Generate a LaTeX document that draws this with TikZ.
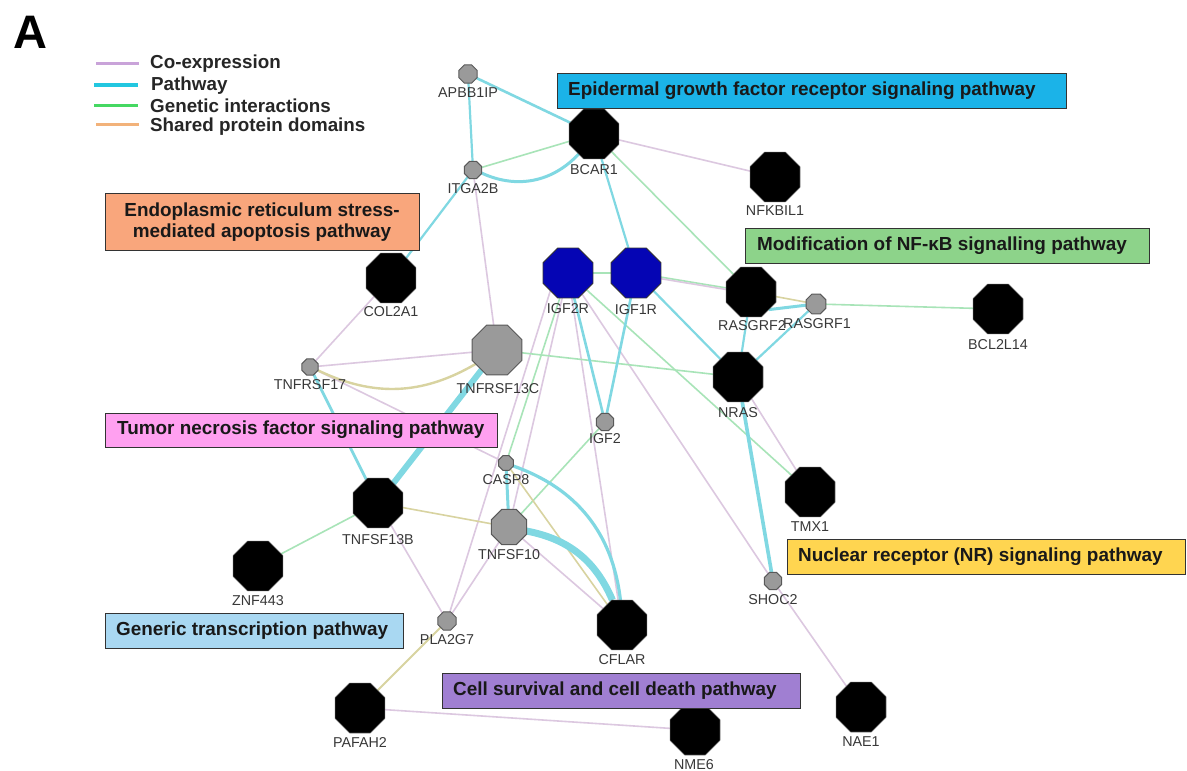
\documentclass[tikz,border=0pt]{standalone}
\usepackage{fontspec}
\setmainfont{Liberation Sans}
\usetikzlibrary{shapes.geometric}
\pgfdeclarelayer{back}
\pgfdeclarelayer{bg}
\pgfsetlayers{back,bg,main}
\definecolor{coex}{HTML}{DCC8E0}
\definecolor{pathw}{HTML}{80D8E2}
\definecolor{genet}{HTML}{A8E4B8}
\definecolor{shared}{HTML}{D8D3A0}
\definecolor{lcoex}{HTML}{C9A3D9}
\definecolor{lpath}{HTML}{22C7E0}
\definecolor{lgen}{HTML}{45D862}
\definecolor{lshared}{HTML}{F2B27A}
\definecolor{cEGF}{HTML}{1BB3E8}
\definecolor{cER}{HTML}{F9A67C}
\definecolor{cNFK}{HTML}{8DD38A}
\definecolor{cTNF}{HTML}{FFA0F0}
\definecolor{cNR}{HTML}{FFD550}
\definecolor{cGEN}{HTML}{A9D8F2}
\definecolor{cCELL}{HTML}{A07FD2}
\definecolor{labgray}{HTML}{383838}
\definecolor{nodeblue}{HTML}{0505B4}
\definecolor{nodegray}{HTML}{9A9A9A}
\tikzset{
  oct/.style={regular polygon, regular polygon sides=8, inner sep=0pt, outer sep=0pt},
  bignode/.style={oct, minimum size=54pt, fill=black, draw=black!70, line width=0.6pt},
  bluenode/.style={oct, minimum size=54pt, fill=nodeblue, draw=black!80, line width=0.8pt},
  graynode/.style={oct, fill=nodegray, draw=black!65, line width=1pt},
  lab/.style={font=\fontsize{14.3}{14.3}\selectfont, text=labgray, inner sep=0pt},
  pbox/.style={draw=black!80, line width=1.4pt, inner sep=0pt, anchor=north west},
  ptext/.style={font=\fontsize{18.9}{20.5}\selectfont\bfseries, text=black!90, inner sep=0pt},
  legtext/.style={font=\fontsize{18.8}{20.5}\selectfont\bfseries, text=black!85, inner sep=0pt, anchor=west},
  ce/.style={coex, line width=1.6pt},
  pw/.style={pathw, line width=2.2pt},
  gi/.style={genet, line width=1.6pt},
  sd/.style={shared, line width=1.6pt},
}
\begin{document}
\begin{tikzpicture}[x=1pt, y=-1pt]
\useasboundingbox (0,0) rectangle (1187,771);
\begin{pgfonlayer}{back}
\fill[white] (0,0) rectangle (1187,771);
\end{pgfonlayer}

% panel letter
\node[font=\fontsize{47}{47}\selectfont\bfseries, inner sep=0pt] (letterA) at (30,32) {A};

% legend
\draw[lcoex, line width=3pt] (96,63) -- (139,63);
\draw[lpath, line width=3.5pt] (94,85) -- (138,85);
\draw[lgen, line width=3pt] (94,105) -- (138,105);
\draw[lshared, line width=3pt] (96,124) -- (139,124);
\node[legtext] (lg1) at (150,64) {Co-expression};
\node[legtext] (lg2) at (151,86) {Pathway};
\node[legtext] (lg3) at (150,106) {Genetic interactions};
\node[legtext] (lg4) at (150,127) {Shared protein domains};

% gene nodes
\node[graynode, minimum size=19.5pt] (APBB1IP) at (468,74) {};
\node[graynode, minimum size=18.5pt] (ITGA2B) at (473,170) {};
\node[bignode] (BCAR1) at (594,134) {};
\node[bignode] (NFKBIL1) at (775,177) {};
\node[bignode] (COL2A1) at (391,278) {};
\node[bluenode] (IGF2R) at (568,273) {};
\node[bluenode] (IGF1R) at (636,273) {};
\node[bignode] (RASGRF2) at (751,292) {};
\node[graynode, minimum size=21.5pt] (RASGRF1) at (816,304) {};
\node[bignode] (BCL2L14) at (998,309) {};
\node[graynode, minimum size=17.5pt] (TNFRSF17) at (310,367) {};
\node[graynode, minimum size=54pt] (TNFRSF13C) at (497,350) {};
\node[bignode] (NRAS) at (738,377) {};
\node[graynode, minimum size=18.5pt] (IGF2) at (605,422) {};
\node[graynode, minimum size=16pt] (CASP8) at (506,463) {};
\node[bignode] (TNFSF13B) at (378,503) {};
\node[graynode, minimum size=38pt] (TNFSF10) at (509,527) {};
\node[bignode] (ZNF443) at (258,566) {};
\node[graynode, minimum size=19.5pt] (PLA2G7) at (447,621) {};
\node[bignode] (CFLAR) at (622,625) {};
\node[bignode] (PAFAH2) at (360,708) {};
\node[bignode] (NME6) at (695,730) {};
\node[bignode] (NAE1) at (861,707) {};
\node[bignode] (TMX1) at (810,492) {};
\node[graynode, minimum size=18.5pt] (SHOC2) at (773,581) {};

% labels
\node[lab] (tAPBB1IP) at (468,93) {APBB1IP};
\node[lab] (tITGA2B) at (473,189) {ITGA2B};
\node[lab] (tBCAR1) at (594,170) {BCAR1};
\node[lab] (tNFKBIL1) at (775,211) {NFKBIL1};
\node[lab] (tCOL2A1) at (391,312) {COL2A1};
\node[lab] (tIGF2R) at (568,309) {IGF2R};
\node[lab] (tIGF1R) at (636,310) {IGF1R};
\node[lab] (tRASGRF2) at (752,326) {RASGRF2};
\node[lab] (tRASGRF1) at (817,324) {RASGRF1};
\node[lab] (tBCL2L14) at (998,345) {BCL2L14};
\node[lab] (tTNFRSF17) at (310,385) {TNFRSF17};
\node[lab] (tTNFRSF13C) at (498,389) {TNFRSF13C};
\node[lab] (tNRAS) at (738,413) {NRAS};
\node[lab] (tIGF2) at (605,439) {IGF2};
\node[lab] (tCASP8) at (506,480) {CASP8};
\node[lab] (tTNFSF13B) at (378,540) {TNFSF13B};
\node[lab] (tTNFSF10) at (509,555) {TNFSF10};
\node[lab] (tZNF443) at (258,601) {ZNF443};
\node[lab] (tPLA2G7) at (447,640) {PLA2G7};
\node[lab] (tCFLAR) at (622,660) {CFLAR};
\node[lab] (tPAFAH2) at (360,743) {PAFAH2};
\node[lab] (tNME6) at (694,765) {NME6};
\node[lab] (tNAE1) at (861,742) {NAE1};
\node[lab] (tTMX1) at (810,527) {TMX1};
\node[lab] (tSHOC2) at (773,600) {SHOC2};

% edges
\begin{pgfonlayer}{bg}
% co-expression
\draw[ce] (ITGA2B) -- (TNFRSF13C);
\draw[ce] (BCAR1) -- (NFKBIL1);
\draw[ce] (IGF2R) -- (CFLAR);
\draw[ce] (IGF2R) -- (SHOC2);
\draw[ce] (IGF2R) -- (TNFSF10);
\draw[ce] (IGF2R.south west) -- (PLA2G7);
\draw[ce] (TNFRSF17) -- (TNFRSF13C);
\draw[ce] (TNFRSF17) -- (COL2A1);
\draw[ce] (TNFRSF17) -- (CASP8);
\draw[ce] (TNFSF13B) -- (PLA2G7);
\draw[ce] (PLA2G7) -- (TNFSF10);
\draw[ce] (TNFSF10) -- (CFLAR);
\draw[ce] (NRAS) -- (TMX1);
\draw[ce] (SHOC2) -- (NAE1);
\draw[ce] (PAFAH2) -- (NME6);
% genetic interactions
\draw[gi] (ITGA2B) -- (BCAR1);
\draw[gi] (BCAR1) -- (RASGRF2);
\draw[gi] (IGF2R) -- (IGF1R);
\draw[gi] (IGF1R) -- (RASGRF2);
\draw[ce, transform canvas={yshift=-1.6pt}] (IGF1R) -- (RASGRF2);
\draw[gi] (IGF2R) -- (TMX1);
\draw[gi] (IGF2R) -- (CASP8);
\draw[gi] (IGF2) -- (TNFSF10);
\draw[gi] (TNFRSF13C) -- (NRAS);
\draw[gi] (RASGRF1) -- (BCL2L14);
\draw[gi] (TNFSF13B) -- (ZNF443);
% shared protein domains
\draw[sd, line width=2.4pt] (TNFRSF17) to[bend right=28] (TNFRSF13C);
\draw[sd] (RASGRF2) -- (RASGRF1);
\draw[sd] (TNFSF13B) -- (TNFSF10);
\draw[sd] (CASP8) -- (CFLAR);
\draw[sd, line width=2pt] (PLA2G7) -- (PAFAH2);
% pathway
\draw[pw, line width=2.6pt] (APBB1IP) -- (BCAR1);
\draw[pw] (APBB1IP) -- (ITGA2B);
\draw[pw, line width=3pt] (ITGA2B) to[bend right=36] (BCAR1);
\draw[pw] (ITGA2B) -- (COL2A1);
\draw[pw] (BCAR1) -- (IGF1R);
\draw[pw] (IGF1R) -- (NRAS);
\draw[pw, line width=2.6pt] (IGF1R) -- (IGF2);
\draw[pw, line width=2.6pt] (IGF2R) -- (IGF2);
\draw[pw] (RASGRF2) -- (NRAS);
\draw[pw] (RASGRF1) -- (NRAS);
\draw[pw, line width=3pt] (RASGRF1) -- (RASGRF2.south east);
\draw[pw, line width=3.6pt] (NRAS) -- (SHOC2);
\draw[pw, line width=2.8pt] (TNFRSF17) -- (TNFSF13B);
\draw[pw, line width=6pt] (TNFRSF13C) -- (TNFSF13B);
\draw[pw, line width=3pt] (CASP8) -- (TNFSF10);
\draw[pw, line width=3.2pt] (CASP8) to[bend left=32] (CFLAR);
\draw[pw, line width=7pt] (TNFSF10) to[bend left=28] (CFLAR);
\end{pgfonlayer}

% pathway boxes
\node[pbox, fill=cEGF, minimum width=509pt, minimum height=35pt] (bEGF) at (557,73) {};
\node[ptext, anchor=west] (tEGF) at (568,91) {Epidermal growth factor receptor signaling pathway};
\node[pbox, fill=cER, minimum width=314pt, minimum height=57pt] (bER) at (105,193) {};
\node[ptext, align=center] (tER) at (262,222) {Endoplasmic reticulum stress-\\mediated apoptosis pathway};
\node[pbox, fill=cNFK, minimum width=404pt, minimum height=35pt] (bNFK) at (745,228) {};
\node[ptext, anchor=west] (tNFK) at (757,246) {Modification of NF-κB signalling pathway};
\node[pbox, fill=cTNF, minimum width=392pt, minimum height=34pt] (bTNF) at (105,413) {};
\node[ptext, anchor=west] (tTNF) at (117,430) {Tumor necrosis factor signaling pathway};
\node[pbox, fill=cNR, minimum width=398pt, minimum height=35pt] (bNR) at (787,539) {};
\node[ptext, anchor=west] (tNR) at (798,557) {Nuclear receptor (NR) signaling pathway};
\node[pbox, fill=cGEN, minimum width=298pt, minimum height=35pt] (bGEN) at (105,613) {};
\node[ptext, anchor=west] (tGEN) at (116,630.5) {Generic transcription pathway};
\node[pbox, fill=cCELL, minimum width=358pt, minimum height=35pt] (bCELL) at (442,673) {};
\node[ptext, anchor=west] (tCELL) at (453,690.5) {Cell survival and cell death pathway};
\end{tikzpicture}
\end{document}
